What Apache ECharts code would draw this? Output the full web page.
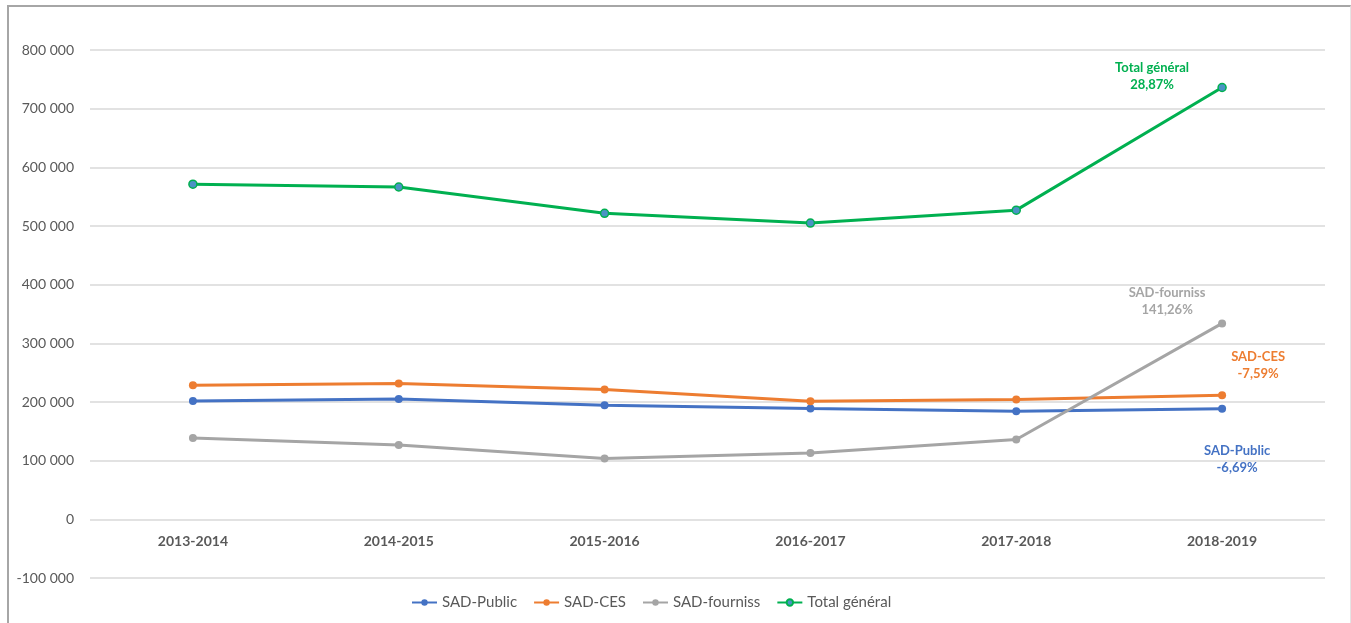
<!DOCTYPE html>
<html>
<head>
<meta charset="utf-8">
<script src="https://cdn.jsdelivr.net/npm/echarts@6/dist/echarts.min.js"></script>
<style>
    body { margin: 0; background: #fff; }
    #chart { width: 1351px; height: 623px; }
    #frame {
        position: absolute; left: 7px; top: 5px; width: 1341px; height: 616px;
        border-left: 2px solid #a6a6a6; border-top: 2px solid #a6a6a6;
        border-right: 1px solid #e4e4e4; border-bottom: 1px solid #e4e4e4;
        pointer-events: none;
    }
</style>
</head>
<body>
<div id="chart"></div>
<div id="frame"></div>
<script>
// data
var years = ['2013-2014', '2014-2015', '2015-2016', '2016-2017', '2017-2018', '2018-2019'];
var sadPublic = [201900, 205300, 194600, 188800, 184300, 188400];
var sadCes = [228700, 231600, 221300, 201400, 204200, 211300];
var sadFourniss = [138500, 126800, 103500, 113200, 136000, 334000];
var totalGeneral = [571200, 566500, 521600, 505000, 527000, 736100];
var seriesNames = ['SAD-Public', 'SAD-CES', 'SAD-fourniss', 'Total général'];
var endPct = ['-6,69%', '-7,59%', '141,26%', '28,87%'];

var colors = ['#4472C4', '#ED7D31', '#A5A5A5', '#00B050'];
var labelOffsets = [[15, 51], [36, -30], [-55, -22], [-70, -11]];

var gridTop = 50, gridBottom = 45, chartH = 623;
// x axis sits on the 0 line, one step (of 9) above the bottom of the grid
var zeroShift = (chartH - gridTop - gridBottom) / 9;

function fmt(v) {
    var s = Math.abs(v).toString().replace(/\B(?=(\d{3})+(?!\d))/g, ' ');
    return (v < 0 ? '-' : '') + s;
}

function makeSeries(idx, values) {
    var last = values.length - 1;
    return {
        name: seriesNames[idx],
        type: 'line',
        symbol: 'circle',
        symbolSize: 8,
        lineStyle: { width: 3, color: colors[idx] },
        itemStyle: idx === 3
            ? { color: '#4b93c4', borderColor: colors[idx], borderWidth: 1.5 }
            : { color: colors[idx] },
        data: values.map(function (v, i) {
            if (i !== last) return v;
            return {
                value: v,
                label: {
                    show: true,
                    position: 'inside',
                    offset: labelOffsets[idx],
                    formatter: seriesNames[idx] + '\n' + endPct[idx],
                    color: colors[idx],
                    fontFamily: 'Lato',
                    fontWeight: 'bold',
                    fontSize: 13,
                    lineHeight: 17,
                    align: 'center'
                }
            };
        }),
        z: 3 + idx
    };
}

var chart = echarts.init(document.getElementById('chart'));
var option = {
    animation: false,
    color: colors,
    textStyle: { fontFamily: 'Lato' },
    grid: { left: 90, right: 26, top: gridTop, bottom: gridBottom, containLabel: false },
    legend: {
        left: 406,
        top: 590,
        itemWidth: 25,
        itemHeight: 8,
        itemGap: 16,
        textStyle: { color: '#595959', fontSize: 15, fontFamily: 'Lato' },
        data: seriesNames
    },
    xAxis: {
        type: 'category',
        data: years,
        position: 'bottom',
        offset: -zeroShift,
        axisLine: { show: false, onZero: false },
        axisTick: { show: false },
        axisLabel: { color: '#595959', fontSize: 14, fontWeight: 'bold', margin: 15 }
    },
    yAxis: {
        type: 'value',
        min: -100000,
        max: 800000,
        interval: 100000,
        axisLine: { show: false },
        axisTick: { show: false },
        splitLine: { lineStyle: { color: '#d9d9d9', width: 1.5 } },
        axisLabel: { color: '#595959', fontSize: 14, margin: 16, formatter: fmt }
    },
    series: [
        makeSeries(0, sadPublic),
        makeSeries(1, sadCes),
        makeSeries(2, sadFourniss),
        makeSeries(3, totalGeneral)
    ]
};
chart.setOption(option, true);
</script>
</body>
</html>
